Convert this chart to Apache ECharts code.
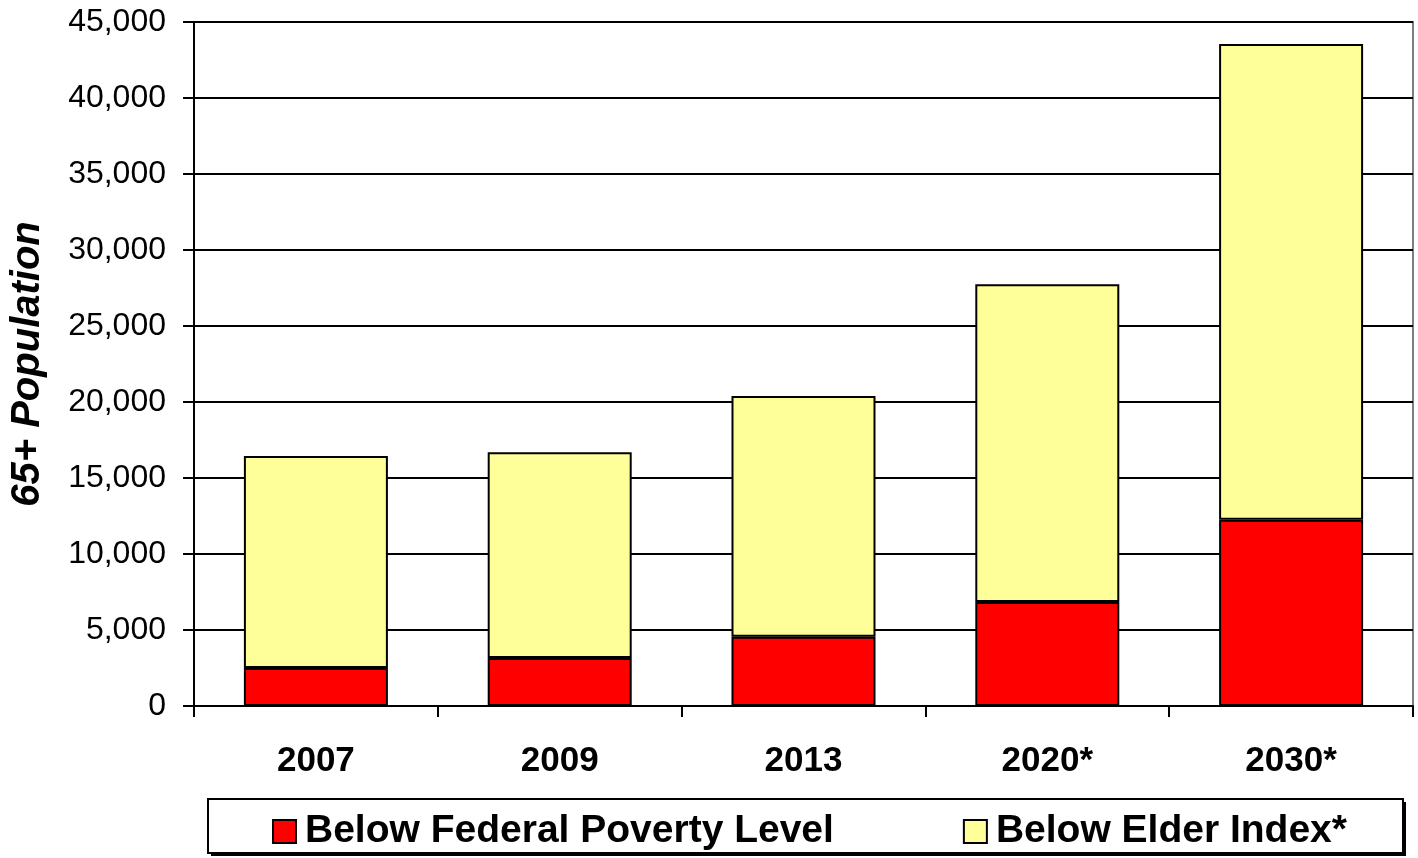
<!DOCTYPE html>
<html><head><meta charset="utf-8">
<script src="https://cdn.jsdelivr.net/npm/echarts@6/dist/echarts.min.js"></script>
<style>html,body{margin:0;padding:0;background:#fff}#c{width:1418px;height:858px}</style>
</head><body><div id="c"></div>
<script>
const categories = ['2007', '2009', '2013', '2020*', '2030*'];
const belowFPL = [2500, 3150, 4550, 6850, 12250];
const belowElderIndex = [13950, 13550, 15850, 20900, 31300];

const chart = echarts.init(document.getElementById('c'));
const F = 'Liberation Sans, Arial, sans-serif';
chart.setOption({
  animation: false,
  backgroundColor: '#fff',
  grid: { left: 194, right: 5, top: 22, bottom: 152, show: true, borderColor: '#808080', borderWidth: 2,
    containLabel: false, outerBoundsMode: 'none' },
  graphic: [
    { type: 'rect', left: 211, top: 802, z: 0, silent: true,
      shape: { width: 1195, height: 54 }, style: { fill: '#000' } },
    { type: 'rect', left: 207, top: 798, z: 1, silent: true,
      shape: { width: 1195, height: 54 }, style: { fill: '#fff', stroke: '#000', lineWidth: 2 } }
  ],
  legend: {
    left: 267, top: 807, z: 5,
    itemWidth: 23, itemHeight: 23, itemGap: 129,
    icon: 'rect',
    textStyle: { fontFamily: F, fontSize: 39, fontWeight: 'bold', color: '#000', padding: [0, 0, 0, 4] },
    data: ['Below Federal Poverty Level', 'Below Elder Index*']
  },
  xAxis: {
    type: 'category', data: categories,
    axisLine: { lineStyle: { color: '#000', width: 2 } },
    axisTick: { show: true, length: 11, lineStyle: { color: '#000', width: 2 } },
    axisLabel: { fontFamily: F, fontSize: 35, fontWeight: 'bold', color: '#000', margin: 38 }
  },
  yAxis: {
    type: 'value', min: 0, max: 45000, interval: 5000,
    name: '65+ Population', nameLocation: 'middle', nameGap: 146,
    nameTextStyle: { fontFamily: F, fontSize: 40, fontWeight: 'bold', fontStyle: 'italic', color: '#000' },
    axisLine: { show: true, lineStyle: { color: '#000', width: 2 } },
    axisTick: { show: true, length: 11, lineStyle: { color: '#000', width: 2 } },
    splitLine: { lineStyle: { color: '#000', width: 2 } },
    axisLabel: { fontFamily: F, fontSize: 32, color: '#000', margin: 28,
      formatter: v => v.toLocaleString('en-US') }
  },
  series: [
    { name: 'Below Federal Poverty Level', type: 'bar', stack: 't', data: belowFPL, barWidth: 144,
      itemStyle: { color: '#FF0000', borderColor: '#000', borderWidth: 2 } },
    { name: 'Below Elder Index*', type: 'bar', stack: 't', data: belowElderIndex, barWidth: 144,
      itemStyle: { color: '#FFFF99', borderColor: '#000', borderWidth: 2 } }
  ]
});
</script></body></html>
